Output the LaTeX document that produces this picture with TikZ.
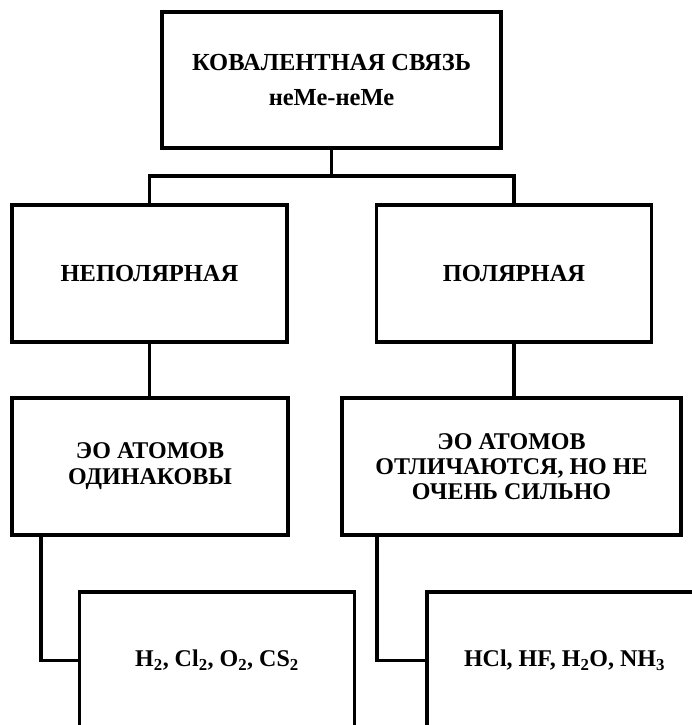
\documentclass[tikz,border=0pt]{standalone}
\usepackage{fontspec}
\setmainfont{Liberation Serif}
\begin{document}
\begin{tikzpicture}[x=1pt,y=-1pt,
  box/.style={draw, line width=3.2pt, rectangle, inner sep=0pt, align=center, minimum width=275pt, minimum height=137pt},
  big/.style={font=\bfseries\fontsize{24.5}{35}\selectfont},
  mid/.style={font=\bfseries\fontsize{24}{25}\selectfont},
  conn/.style={line width=3.2pt}]
\useasboundingbox (0,0) rectangle (692,725);
\clip (0,0) rectangle (692,725);
\node[box, big, minimum width=339pt, minimum height=136pt] (top) at (331.5,80) {КОВАЛЕНТНАЯ СВЯЗЬ\\неМе-неМе};
\node[box, big] (np) at (149.5,273.5) {НЕПОЛЯРНАЯ};
\node[box, big] (p) at (514,273.5) {ПОЛЯРНАЯ};
\node[box, mid, minimum width=276pt, font=\bfseries\fontsize{24}{26}\selectfont] (eq) at (150,466.5) {ЭО АТОМОВ\\ОДИНАКОВЫ};
\node[box, mid, minimum width=339pt] (diff) at (511.5,466.5) {ЭО АТОМОВ\\ОТЛИЧАЮТСЯ, НО НЕ\\ОЧЕНЬ СИЛЬНО};
\node[box, mid] (ex1) at (217,660.5) {H\textsubscript{2}, Cl\textsubscript{2}, O\textsubscript{2}, CS\textsubscript{2}};
\node[box, mid] (ex2) at (564.5,660.5) {HCl, HF, H\textsubscript{2}O, NH\textsubscript{3}};
\coordinate (j) at (331.5,176);
\draw[conn] (top.south) -- (j);
\draw[conn] (np.north) -- (np.north |- j) -- (p.north |- j) -- (p.north);
\draw[conn] (np.south) -- (np.south |- eq.north);
\draw[conn] (p.south) -- (p.south |- diff.north);
\draw[conn] (eq.south -| 41,0) -- (41,0 |- ex1.west) -- (ex1.west);
\draw[conn] (diff.south -| 377,0) -- (377,0 |- ex2.west) -- (ex2.west);
\end{tikzpicture}
\end{document}
